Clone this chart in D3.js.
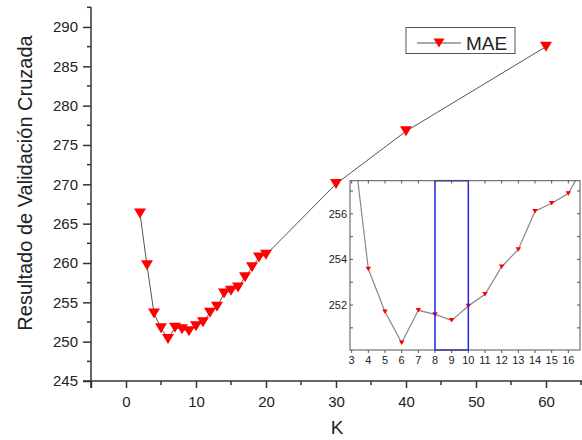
<!DOCTYPE html>
<html>
<head>
<meta charset="utf-8">
<script src="https://cdn.jsdelivr.net/npm/d3@7"></script>
<style>
  html, body { margin: 0; padding: 0; background: #fff; }
  svg { display: block; font-family: "Liberation Sans", Arial, sans-serif; }
</style>
</head>
<body>
<svg id="chart" width="582" height="440"></svg>
<script>
// ---- data ----
const kValues   = [2, 3, 4, 5, 6, 7, 8, 9, 10, 11, 12, 13, 14, 15, 16, 17, 18, 19, 20, 30, 40, 60];
const maeValues = [266.3, 259.7, 253.58, 251.71, 250.35, 251.77, 251.59, 251.33, 251.96, 252.47, 253.68, 254.44, 256.11, 256.46, 256.89, 258.2, 259.45, 260.7, 261.05, 270.05, 276.75, 287.5];
const xTicks    = [0, 10, 20, 30, 40, 50, 60];
const yTicks    = [245, 250, 255, 260, 265, 270, 275, 280, 285, 290];
const insetXTicks = [3, 4, 5, 6, 7, 8, 9, 10, 11, 12, 13, 14, 15, 16];
const insetYTicks = [252, 254, 256];
const highlightRange = [8, 10];
const seriesName = "MAE";
const xTitle = "K";
const yTitle = "Resultado de Validación Cruzada";

const data = kValues.map((k, i) => ({ k, v: maeValues[i] }));
const svg = d3.select("#chart");

// ---- main scales ----
const x = d3.scaleLinear().domain([-5, 65]).range([91, 581]);
const y = d3.scaleLinear().domain([245, 292.5]).range([381, 7.3]);

const axisColor = "#333";

// minor ticks
const xMinor = d3.range(-5, 66, 5).filter(v => !xTicks.includes(v) && v !== -5);
const yMinor = d3.range(245, 293, 2.5).filter(v => !yTicks.includes(v));

const gx = svg.append("g").attr("transform", "translate(0,381)");
gx.append("line").attr("x1", 83).attr("x2", 582).attr("y1", 0).attr("y2", 0)
  .attr("stroke", axisColor).attr("stroke-width", 1.5);
gx.call(g => {
  const ax = d3.axisBottom(x).tickValues(xTicks.concat([-5])).tickSize(7).tickSizeOuter(0)
    .tickFormat(d => d === -5 ? "" : d);
  g.call(ax);
  g.select(".domain").remove();
  g.selectAll(".tick line").attr("stroke", axisColor).attr("stroke-width", 1.5);
  g.selectAll(".tick text").attr("font-size", 15).attr("fill", "#222").attr("y", 12).attr("dy", "0.9em")
    .attr("font-family", "Liberation Sans, Arial, sans-serif");
});
gx.selectAll(".minor").data(xMinor).enter().append("line")
  .attr("x1", d => x(d)).attr("x2", d => x(d)).attr("y1", 0).attr("y2", 4)
  .attr("stroke", axisColor).attr("stroke-width", 1.5);

const gy = svg.append("g").attr("transform", "translate(91,0)");
gy.append("line").attr("x1", 0).attr("x2", 0).attr("y1", 7).attr("y2", 388)
  .attr("stroke", axisColor).attr("stroke-width", 1.5);
gy.call(g => {
  const ax = d3.axisLeft(y).tickValues(yTicks).tickSize(8).tickSizeOuter(0);
  g.call(ax);
  g.select(".domain").remove();
  g.selectAll(".tick line").attr("stroke", axisColor).attr("stroke-width", 1.5);
  g.selectAll(".tick text").attr("font-size", 15).attr("fill", "#222").attr("x", -13)
    .attr("font-family", "Liberation Sans, Arial, sans-serif");
});
gy.selectAll(".minor").data(yMinor).enter().append("line")
  .attr("x1", -4).attr("x2", 0).attr("y1", d => y(d)).attr("y2", d => y(d))
  .attr("stroke", axisColor).attr("stroke-width", 1.5);

// axis titles
svg.append("text").attr("x", 337).attr("y", 434).attr("text-anchor", "middle")
  .attr("font-size", 19).attr("fill", "#222").text(xTitle);
svg.append("text").attr("transform", "translate(32,183) rotate(-90)")
  .attr("text-anchor", "middle").attr("font-size", 20).attr("fill", "#222").text(yTitle);

// triangle path helper (down-pointing, centered)
function tri(w, h) {
  return `M${-w/2},${-h/2}L${w/2},${-h/2}L0,${h/2}Z`;
}

// main line
const line = d3.line().x(d => x(d.k)).y(d => y(d.v));
svg.append("path").datum(data).attr("d", line)
  .attr("fill", "none").attr("stroke", "#555").attr("stroke-width", 1);

// ---- inset ----
const ix = d3.scaleLinear().domain([2.9, 16.7]).range([350, 580]);
const iy = d3.scaleLinear().domain([250.03, 257.45]).range([350, 180.7]);
const inset = svg.append("g");
inset.append("rect").attr("x", 350).attr("y", 180.7).attr("width", 230).attr("height", 169.3)
  .attr("fill", "#fff");
inset.append("defs").append("clipPath").attr("id", "insetClip")
  .append("rect").attr("x", 350).attr("y", 180.7).attr("width", 230).attr("height", 169.3);

const insetData = data.filter(d => d.k <= 17);
const iline = d3.line().x(d => ix(d.k)).y(d => iy(d.v));
const ic = inset.append("g").attr("clip-path", "url(#insetClip)");
ic.append("path").datum(insetData).attr("d", iline)
  .attr("fill", "none").attr("stroke", "#888").attr("stroke-width", 1.2);

// inset highlight box
inset.append("rect")
  .attr("x", ix(highlightRange[0])).attr("y", 180.7)
  .attr("width", ix(highlightRange[1]) - ix(highlightRange[0])).attr("height", 169.3)
  .attr("fill", "none").attr("stroke", "#2323e0").attr("stroke-width", 1.5);

ic.selectAll(".imk").data(insetData.filter(d => d.k >= 3 && d.k <= 16)).enter().append("path")
  .attr("d", tri(5.5, 4.5)).attr("transform", d => `translate(${ix(d.k)},${iy(d.v)})`)
  .attr("fill", "#ff0000");

// inset frame
inset.append("rect").attr("x", 350).attr("y", 180.7).attr("width", 230).attr("height", 169.3)
  .attr("fill", "none").attr("stroke", "#555").attr("stroke-width", 1);

// inset ticks
const insetYAll = [251, 252, 253, 254, 255, 256, 257];
inset.selectAll(".ibt").data(insetXTicks).enter().append("line")
  .attr("x1", d => ix(d)).attr("x2", d => ix(d)).attr("y1", 350).attr("y2", 353)
  .attr("stroke", "#555");
inset.selectAll(".itt").data(insetXTicks).enter().append("line")
  .attr("x1", d => ix(d)).attr("x2", d => ix(d)).attr("y1", 180.7).attr("y2", 183.5)
  .attr("stroke", "#555");
inset.selectAll(".ilt").data(insetYAll).enter().append("line")
  .attr("x1", 350).attr("x2", 353).attr("y1", d => iy(d)).attr("y2", d => iy(d))
  .attr("stroke", "#555");
inset.selectAll(".irt").data(insetYAll).enter().append("line")
  .attr("x1", 577).attr("x2", 580).attr("y1", d => iy(d)).attr("y2", d => iy(d))
  .attr("stroke", "#555");
inset.selectAll(".ixl").data(insetXTicks).enter().append("text")
  .attr("x", d => ix(d)).attr("y", 364).attr("text-anchor", "middle")
  .attr("font-size", 11).attr("fill", "#222").text(d => d);
inset.selectAll(".iyl").data(insetYTicks).enter().append("text")
  .attr("x", 347).attr("y", d => iy(d)).attr("dy", "0.35em").attr("text-anchor", "end")
  .attr("font-size", 11).attr("fill", "#222").text(d => d);

// main markers (drawn last, on top)
svg.append("g").selectAll("path").data(data).enter().append("path")
  .attr("d", tri(12, 10)).attr("transform", d => `translate(${x(d.k)},${y(d.v)})`)
  .attr("fill", "#ff0000");

// legend
const lg = svg.append("g");
lg.append("rect").attr("x", 406).attr("y", 27.5).attr("width", 109).attr("height", 26)
  .attr("fill", "#fff").attr("stroke", "#555").attr("stroke-width", 1);
lg.append("line").attr("x1", 417).attr("x2", 461).attr("y1", 43).attr("y2", 43)
  .attr("stroke", "#555").attr("stroke-width", 1);
lg.append("path").attr("d", tri(11, 9)).attr("transform", "translate(439,43)").attr("fill", "#ff0000");
lg.append("text").attr("x", 466).attr("y", 50).attr("font-size", 19).attr("fill", "#222").text(seriesName);
</script>
</body>
</html>
